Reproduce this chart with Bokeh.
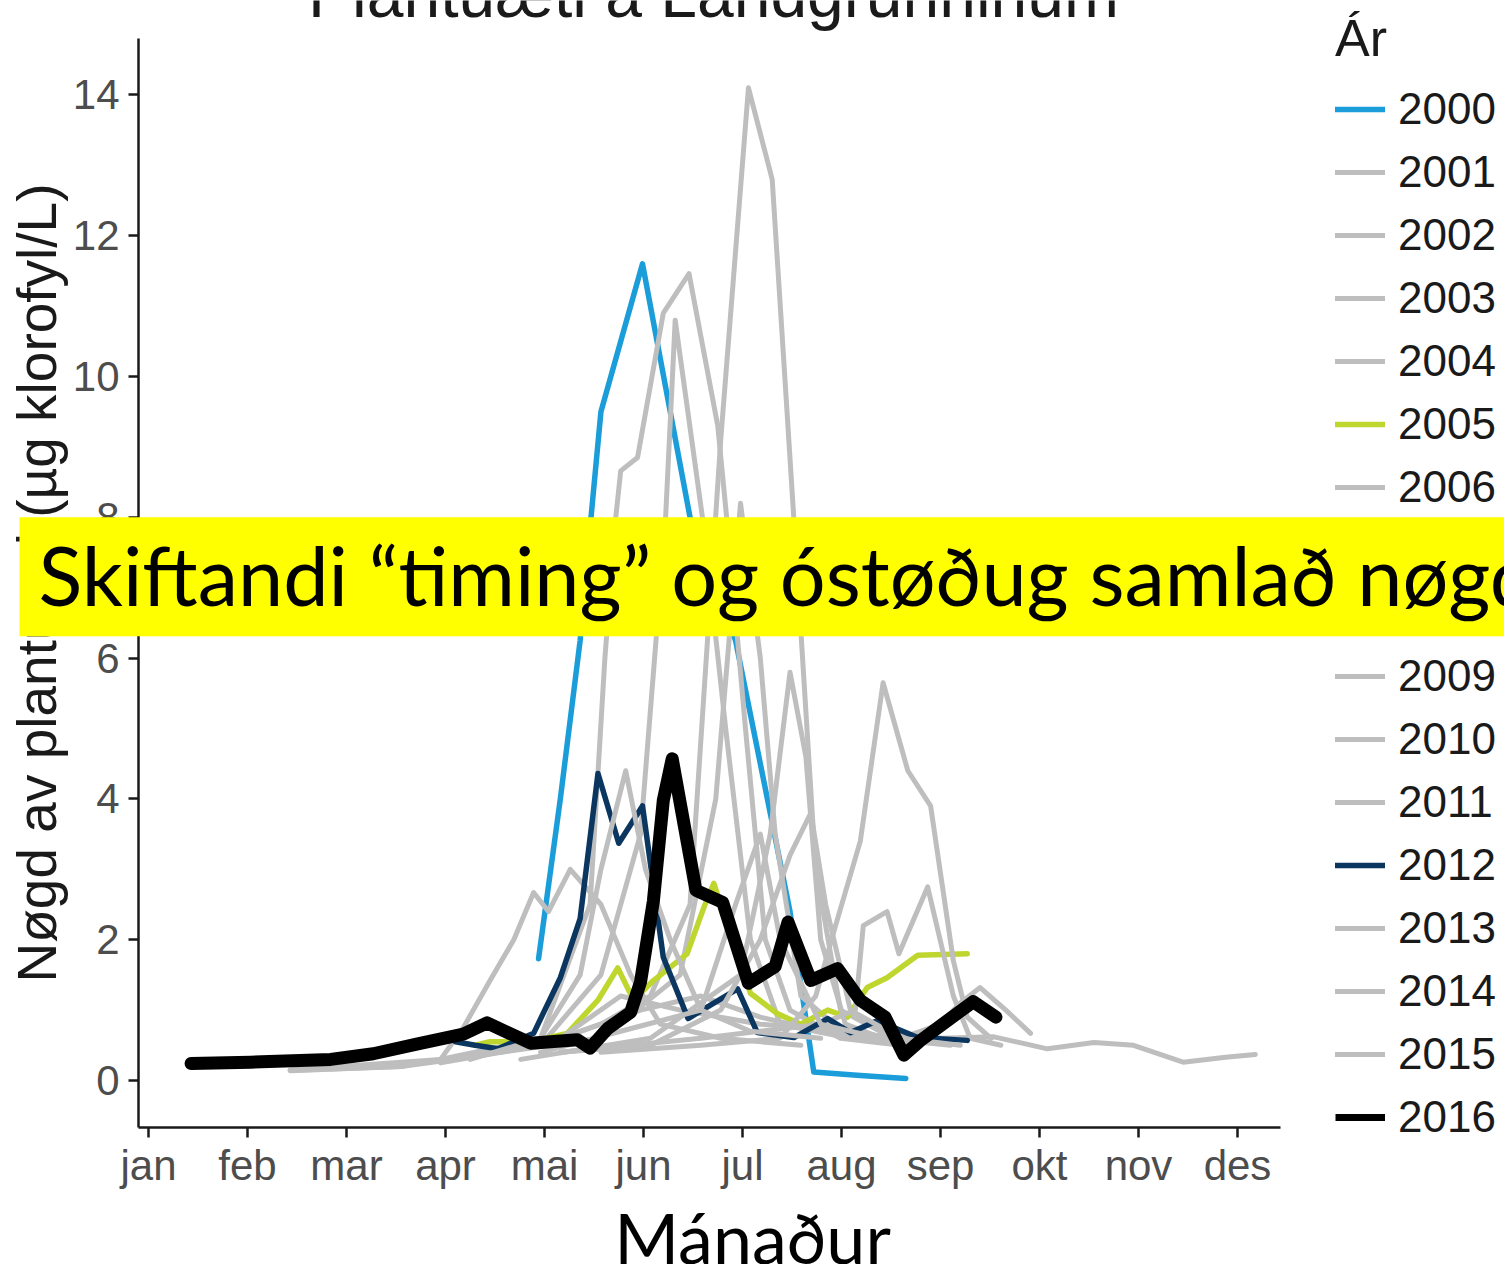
import math
from bokeh.plotting import figure
from bokeh.models import Range1d, FixedTicker, Legend, LegendItem, Label
from bokeh.embed import file_html
from bokeh.resources import INLINE

# ---------------- data (x = month as decimal, 1 = jan) ----------------
month_ticks = [1, 2, 3, 4, 5, 6, 7, 8, 9, 10, 11, 12]
month_labels = ["jan", "feb", "mar", "apr", "mai", "jun", "jul", "aug", "sep", "okt", "nov", "des"]
y_ticks = [0, 2, 4, 6, 8, 10, 12, 14]
years = list(range(2000, 2017))

x_2000 = [4.94, 5.16, 5.36, 5.46, 5.57, 5.99, 6.47, 6.93, 7.48, 7.72, 8.19, 8.65]
y_2000 = [1.73, 4.0, 6.25, 7.85, 9.5, 11.6, 8.0, 6.25, 2.4, 0.12, 0.07, 0.03]

x_2001 = [2.43, 3.95, 4.96, 5.57, 6.07, 6.47, 6.78, 7.06, 7.30, 7.52, 7.74, 7.99, 8.39, 9.00]
y_2001 = [0.15, 0.3, 0.5, 0.8, 1.2, 2.5, 9.1, 14.1, 12.8, 7.95, 3.0, 1.0, 0.7, 0.6]

x_2002 = [3.95, 4.96, 5.46, 5.61, 5.72, 5.77, 5.94, 6.20, 6.46, 6.75, 6.85, 7.03, 7.23, 7.48, 7.99, 8.60]
y_2002 = [0.3, 0.6, 2.5, 6.0, 8.0, 8.66, 8.85, 10.9, 11.46, 9.3, 7.85, 5.0, 2.0, 1.0, 0.6, 0.5]

x_2003 = [4.05, 4.96, 5.57, 5.97, 6.22, 6.32, 6.61, 6.83, 7.08, 7.38, 8.09]
y_2003 = [0.3, 0.5, 1.5, 3.5, 7.9, 10.8, 7.85, 5.0, 2.0, 0.8, 0.6]

x_2004 = [4.56, 5.57, 6.37, 6.73, 6.98, 7.18, 7.33, 7.59, 8.09, 8.80]
y_2004 = [0.4, 0.6, 1.5, 4.0, 8.2, 6.0, 3.5, 1.2, 0.6, 0.5]

x_2005 = [4.30, 4.45, 4.86, 5.23, 5.54, 5.74, 5.90, 6.10, 6.44, 6.61, 6.71, 7.08, 7.35, 7.59, 7.86, 8.06, 8.26, 8.46, 8.77, 9.27]
y_2005 = [0.5, 0.55, 0.55, 0.67, 1.14, 1.6, 1.14, 1.42, 1.8, 2.46, 2.8, 1.24, 0.95, 0.8, 1.0, 0.9, 1.32, 1.46, 1.78, 1.8]

x_2006 = [4.76, 6.07, 6.98, 7.28, 7.48, 7.64, 7.79, 8.04, 8.60]
y_2006 = [0.3, 0.6, 1.5, 3.5, 5.8, 4.6, 2.0, 0.8, 0.5]

x_2007 = [5.57, 6.58, 7.38, 7.74, 7.94, 8.19, 8.42, 8.67, 8.90, 9.13, 9.27, 9.51]
y_2007 = [0.4, 0.5, 0.6, 1.2, 2.2, 3.4, 5.65, 4.4, 3.9, 1.7, 0.9, 0.6]

x_2008 = [5.16, 6.58, 7.79, 8.14, 8.22, 8.46, 8.58, 8.87, 9.13, 9.30, 9.61]
y_2008 = [0.4, 0.6, 0.8, 1.0, 2.2, 2.4, 1.8, 2.75, 1.2, 0.6, 0.5]

x_2009 = [3.95, 4.96, 5.97, 6.58, 7.18, 7.79, 8.39, 9.00, 9.54, 10.08, 10.55, 10.95, 11.45, 11.88, 12.18]
y_2009 = [0.25, 0.5, 1.0, 1.2, 0.9, 0.7, 0.6, 0.6, 0.62, 0.45, 0.54, 0.5, 0.26, 0.33, 0.37]

x_2010 = [2.43, 3.55, 4.35, 5.16, 5.77, 6.37, 7.18, 7.99, 8.60, 9.00, 9.20, 9.40, 9.66, 9.91]
y_2010 = [0.14, 0.2, 0.35, 0.6, 1.2, 1.0, 0.8, 0.7, 0.6, 0.8, 1.1, 1.32, 1.0, 0.67]

x_2011 = [2.54, 3.55, 3.95, 4.18, 4.45, 4.69, 4.89, 5.04, 5.26, 5.57, 5.87, 6.17, 6.78, 7.59]
y_2011 = [0.15, 0.2, 0.3, 0.75, 1.42, 2.0, 2.67, 2.4, 3.0, 2.5, 1.5, 0.8, 0.6, 0.5]

x_2012 = [4.10, 4.30, 4.53, 4.89, 5.16, 5.36, 5.54, 5.75, 5.99, 6.20, 6.45, 6.95, 7.15, 7.52, 7.86, 8.09, 8.36, 8.77, 9.27]
y_2012 = [0.55, 0.5, 0.45, 0.67, 1.46, 2.3, 4.36, 3.37, 3.9, 1.75, 0.88, 1.3, 0.68, 0.61, 0.88, 0.68, 0.85, 0.61, 0.57]

x_2013 = [4.25, 4.96, 5.36, 5.57, 5.82, 6.02, 6.27, 6.58, 7.08, 7.79]
y_2013 = [0.3, 0.6, 1.5, 3.0, 4.4, 3.0, 2.0, 1.0, 0.7, 0.6]

x_2014 = [5.16, 6.07, 6.78, 7.18, 7.48, 7.69, 7.84, 8.09, 8.60, 9.20]
y_2014 = [0.4, 0.5, 1.0, 2.0, 3.2, 3.8, 2.5, 1.0, 0.6, 0.5]

x_2015 = [4.96, 5.77, 6.58, 6.93, 7.18, 7.38, 7.79, 8.39, 9.10]
y_2015 = [0.4, 0.7, 1.0, 2.5, 3.5, 2.0, 0.8, 0.6, 0.5]

x_2016 = [1.43, 2.03, 2.84, 3.27, 3.72, 4.18, 4.42, 4.63, 4.86, 5.33, 5.46, 5.64, 5.87, 5.97, 6.10, 6.20, 6.29, 6.53, 6.80, 7.06, 7.33, 7.46, 7.69, 7.96, 8.19, 8.44, 8.63, 8.80, 9.33, 9.56]
y_2016 = [0.24, 0.26, 0.30, 0.38, 0.52, 0.66, 0.82, 0.68, 0.53, 0.58, 0.46, 0.74, 0.97, 1.4, 2.55, 3.98, 4.57, 2.7, 2.53, 1.38, 1.62, 2.25, 1.42, 1.59, 1.14, 0.9, 0.36, 0.57, 1.12, 0.9]

series_x = {2000: x_2000, 2001: x_2001, 2002: x_2002, 2003: x_2003, 2004: x_2004, 2005: x_2005,
            2006: x_2006, 2007: x_2007, 2008: x_2008, 2009: x_2009, 2010: x_2010, 2011: x_2011,
            2012: x_2012, 2013: x_2013, 2014: x_2014, 2015: x_2015, 2016: x_2016}
series_y = {2000: y_2000, 2001: y_2001, 2002: y_2002, 2003: y_2003, 2004: y_2004, 2005: y_2005,
            2006: y_2006, 2007: y_2007, 2008: y_2008, 2009: y_2009, 2010: y_2010, 2011: y_2011,
            2012: y_2012, 2013: y_2013, 2014: y_2014, 2015: y_2015, 2016: y_2016}

GRAY = "#bebebe"
colors = {2000: "#1b9dd9", 2005: "#bfd62f", 2012: "#0b3660", 2016: "#000000"}
widths = {2000: 5.5, 2005: 5.5, 2012: 5.5, 2016: 13}

# legend entries that the yellow banner hides in the reference
hidden_legend_years = [2007, 2008]

# ---------------- layout constants (pixels) ----------------
W, H = 1504, 1264
PX_PER_MONTH, JAN_PX = 99.0, 148.0
PX_PER_UNIT, ZERO_PX = 70.4, 1080.0


def mx(px):
    return 1 + (px - JAN_PX) / PX_PER_MONTH


def vy(py):
    return (ZERO_PX - py) / PX_PER_UNIT


AX_LEFT, AX_RIGHT, AX_TOP, AX_BOTTOM = 138, 1280, 38, 1127

p = figure(width=W, height=H, output_backend="svg", toolbar_location=None,
           x_range=Range1d(mx(0), mx(W)), y_range=Range1d(vy(H), vy(0)),
           min_border_left=0, min_border_right=0, min_border_top=0, min_border_bottom=0)
p.outline_line_color = None
p.xgrid.visible = False
p.ygrid.visible = False
p.background_fill_color = "white"
p.border_fill_color = "white"

xa, ya = p.xaxis[0], p.yaxis[0]
xa.fixed_location = vy(AX_BOTTOM)
xa.bounds = (mx(AX_LEFT), mx(AX_RIGHT))
ya.fixed_location = mx(AX_LEFT)
ya.bounds = (vy(AX_BOTTOM), vy(AX_TOP))

for ax in (xa, ya):
    ax.axis_line_width = 2.5
    ax.axis_line_color = "#1a1a1a"
    ax.major_tick_line_width = 2.5
    ax.major_tick_line_color = "#1a1a1a"
    ax.major_tick_out = 10
    ax.major_tick_in = 0
    ax.minor_tick_line_color = None
    ax.major_label_text_font = "Liberation Sans"
    ax.major_label_text_font_size = "42px"
    ax.major_label_text_color = "#4d4d4d"
xa.major_label_standoff = 4
ya.major_label_standoff = 9

xa.ticker = FixedTicker(ticks=month_ticks)
xa.major_label_overrides = {t: lab for t, lab in zip(month_ticks, month_labels)}
ya.ticker = FixedTicker(ticks=y_ticks)
ya.axis_label = "Nøgd av plantuæti (µg klorofyl/L)"
ya.axis_label_text_font = "Liberation Sans"
ya.axis_label_text_font_size = "55px"
ya.axis_label_text_font_style = "normal"
ya.axis_label_text_color = "#1a1a1a"
ya.axis_label_standoff = 2

renderers = {}
for yr in years:
    c = colors.get(yr, GRAY)
    w = widths.get(yr, 5)
    renderers[yr] = p.line(series_x[yr], series_y[yr], line_color=c, line_width=w,
                           line_join="round", line_cap="round")

# legend key for 2016 uses a thinner stroke, like the reference (no visible mark in the plot)
proxy_2016 = p.line([float("nan")], [float("nan")], line_color="#000000", line_width=7)


def legend_item(yr):
    r = proxy_2016 if yr == 2016 else renderers[yr]
    return LegendItem(label=str(yr), renderers=[r], visible=yr not in hidden_legend_years)


legend_style = dict(padding=0, margin=0, border_line_alpha=0, background_fill_alpha=0,
                    glyph_width=50, glyph_height=40, label_height=63, spacing=0,
                    label_standoff=13, label_text_font="Liberation Sans",
                    label_text_font_size="44px", label_text_color="#1a1a1a")

# upper part of the legend (with title): 2000-2006 (+ the hidden 2007, 2008 entries)
top_years = [y for y in years if y <= 2008]
legend_top = Legend(items=[legend_item(y) for y in top_years], location=(1335, H - 518),
                    title="Ár", title_text_font="Liberation Sans", title_text_font_size="52px",
                    title_text_font_style="normal", title_text_color="#1a1a1a", title_standoff=9,
                    **legend_style)
# lower part of the legend: 2009-2016
bottom_years = [y for y in years if y > 2008]
legend_bottom = Legend(items=[legend_item(y) for y in bottom_years], location=(1335, H - 1148),
                       **legend_style)
p.add_layout(legend_top)
p.add_layout(legend_bottom)


# Label baselines render about 0.38 em below the given y, so anchor them that much higher
def label_y(baseline_px, size_px):
    return vy(baseline_px - 0.38 * size_px)


# title, cut off at the top edge as in the reference
title = Label(x=mx(713), y=label_y(19, 66), text="Plantuæti á Landgrunninum",
              text_align="center", text_baseline="alphabetic", text_font="Liberation Sans",
              text_font_size="66px", text_color="#1a1a1a")
p.add_layout(title)

xtitle = Label(x=mx(752), y=label_y(1263, 70), text="Mánaður",
               text_align="center", text_baseline="alphabetic",
               text_font="Lato", text_font_size="70px", text_color="#000000")
p.add_layout(xtitle)

# yellow banner laid over the chart (box starts at x=19 px, text at 38 px)
banner = Label(x=mx(19), y=label_y(607, 81),
               text="Skiftandi \u201ctiming\u201d og óstøðug samlað nøgd",
               text_align="left", text_baseline="alphabetic", text_font="Lato",
               text_font_size="81px", text_color="#000000",
               background_fill_color="#ffff00", background_fill_alpha=1.0,
               padding=dict(left=19, right=40, top=9, bottom=13), level="overlay")
p.add_layout(banner)

open("out.html", "w").write(file_html(p, INLINE))
